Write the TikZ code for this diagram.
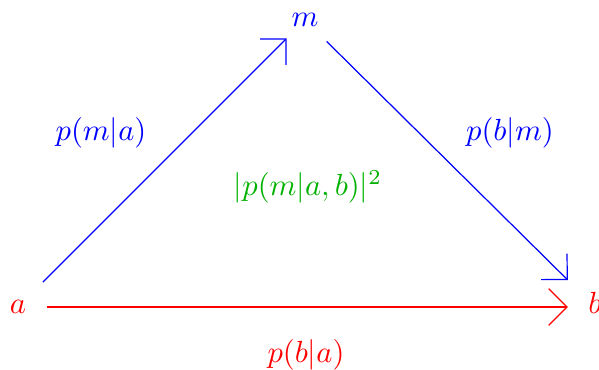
\documentclass[tikz,border=0pt]{standalone}
\usepackage{amsmath}
\usepackage{tikz}
\usetikzlibrary{arrows.meta}
\definecolor{cPath}{RGB}{0,0,255}
\definecolor{cDirect}{RGB}{255,0,0}
\definecolor{cJoint}{RGB}{0,178,0}

\begin{document}
\begin{tikzpicture}[
  x=0.3268pt,y=-0.3268pt,
  pt/.style={inner sep=0pt,text height=1.6ex,text depth=0.55ex},
  lbl/.style={inner sep=0pt},
  ar/.style={-{Straight Barb[length=6pt,width=12pt]}}
]
\useasboundingbox (0,0) rectangle (599,369);
% vertices
\node[pt,text=cDirect] (a) at (18,307) {$a$};
\node[pt,text=cDirect] (b) at (595,307) {$b$};
\node[pt,text=cPath] (m) at (305,20) {$m$};
% arrows
\draw[ar,cPath,shorten <=7.5pt,shorten >=2pt] (a) -- (m);
\draw[ar,cPath,shorten <=3.5pt,shorten >=12.5pt] (m) -- (a -| b);
\draw[ar,cDirect,shorten <=6.5pt,shorten >=6.5pt] (a) -- (b);
% labels
\node[lbl,text=cPath] (lam) at (101,133) {$p(m|a)$};
\node[lbl,text=cPath] (lmb) at (510,133) {$p(b|m)$};
\node[lbl,text=cJoint] (lj) at (308,187) {$|p(m|a,b)|^2$};
\node[lbl,text=cDirect] (lab) at (306,355) {$p(b|a)$};
\end{tikzpicture}
\end{document}
